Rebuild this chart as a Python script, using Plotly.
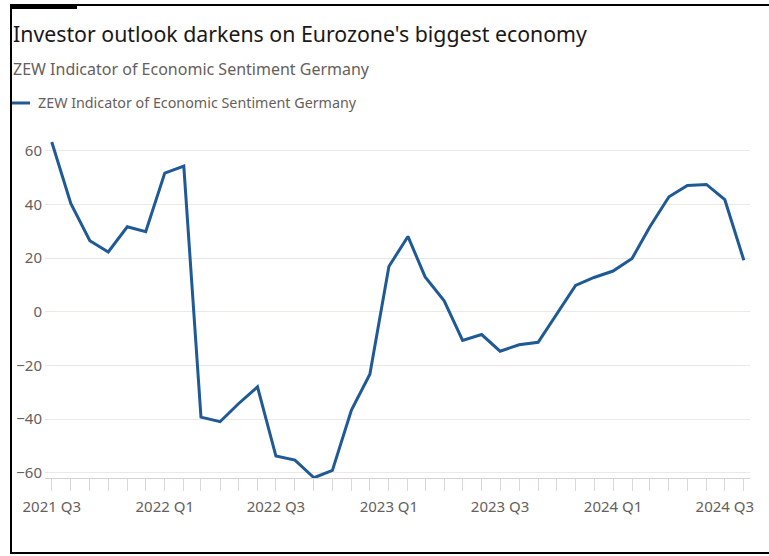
import plotly.graph_objects as go

months = ["2021-07-01", "2021-08-01", "2021-09-01", "2021-10-01", "2021-11-01", "2021-12-01",
          "2022-01-01", "2022-02-01", "2022-03-01", "2022-04-01", "2022-05-01", "2022-06-01",
          "2022-07-01", "2022-08-01", "2022-09-01", "2022-10-01", "2022-11-01", "2022-12-01",
          "2023-01-01", "2023-02-01", "2023-03-01", "2023-04-01", "2023-05-01", "2023-06-01",
          "2023-07-01", "2023-08-01", "2023-09-01", "2023-10-01", "2023-11-01", "2023-12-01",
          "2024-01-01", "2024-02-01", "2024-03-01", "2024-04-01", "2024-05-01", "2024-06-01",
          "2024-07-01", "2024-08-01"]
zew = [63.3, 40.4, 26.5, 22.3, 31.7, 29.9,
       51.7, 54.3, -39.3, -41.0, -34.3, -28.0,
       -53.8, -55.3, -61.9, -59.2, -36.7, -23.3,
       16.9, 28.1, 13.0, 4.1, -10.7, -8.5,
       -14.7, -12.3, -11.4, -1.1, 9.8, 12.8,
       15.2, 19.9, 31.7, 42.9, 47.1, 47.5,
       41.8, 19.2]
tick_dates = ["2021-07-01", "2022-01-01", "2022-07-01", "2023-01-01", "2023-07-01", "2024-01-01", "2024-07-01"]
tick_labels = ["2021 Q3", "2022 Q1", "2022 Q3", "2023 Q1", "2023 Q3", "2024 Q1", "2024 Q3"]
y_ticks = [-60, -40, -20, 0, 20, 40, 60]

title = "Investor outlook darkens on Eurozone's biggest economy"
subtitle = "ZEW Indicator of Economic Sentiment Germany"
series_name = "ZEW Indicator of Economic Sentiment Germany"

W, H = 769, 556
ML, MR, MT, MB = 45, 19, 130, 78
PW, PH = W - ML - MR, H - MT - MB

def px(x):
    return (x - ML) / PW

def py(y):
    return (H - MB - y) / PH

FONT = "Noto Sans"
GREY = "#66605c"
LINE = "#1f5a96"

fig = go.Figure()
fig.add_trace(go.Scatter(x=months, y=zew, mode="lines", name=series_name,
                         line=dict(color=LINE, width=3), showlegend=False))

fig.update_layout(
    width=W, height=H,
    margin=dict(l=ML, r=MR, t=MT, b=MB),
    paper_bgcolor="white", plot_bgcolor="white",
    font=dict(family=FONT, color=GREY, size=15),
    xaxis=dict(
        type="date",
        range=["2021-06-20", "2024-08-11"],
        tickvals=tick_dates, ticktext=tick_labels,
        ticks="outside", ticklen=12, tickcolor="#dcd8d4", tickwidth=1,
        minor=dict(ticks="outside", ticklen=12, dtick="M1", tick0="2021-07-01",
                   tickcolor="#dcd8d4", tickwidth=1, showgrid=False),
        showgrid=False, showline=True, linecolor="#d6d2ce", linewidth=1,
        tickfont=dict(size=15, color=GREY), zeroline=False, ticklabelstandoff=3,
    ),
    yaxis=dict(
        range=[-62, 67.8],
        tickvals=y_ticks,
        showgrid=True, gridcolor="#ebe8e5", gridwidth=1,
        zeroline=False, showline=False, ticks="",
        tickfont=dict(size=15, color=GREY), ticklabelstandoff=2,
    ),
)

ann = [
    dict(text=title, x=px(11), y=py(33), xref="paper", yref="paper", xanchor="left", yanchor="middle",
         showarrow=False, font=dict(family=FONT, size=21.3, color="#1a1817")),
    dict(text=subtitle, x=px(11), y=py(69), xref="paper", yref="paper", xanchor="left", yanchor="middle",
         showarrow=False, font=dict(family=FONT, size=16, color=GREY)),
    dict(text=series_name, x=px(36), y=py(103), xref="paper", yref="paper", xanchor="left", yanchor="middle",
         showarrow=False, font=dict(family=FONT, size=14.3, color=GREY)),
]
fig.update_layout(annotations=ann)

shapes = [
    # legend swatch
    dict(type="line", xref="paper", yref="paper", x0=px(12), x1=px(30), y0=py(103), y1=py(103),
         line=dict(color=LINE, width=3)),
    # frame
    dict(type="line", xref="paper", yref="paper", x0=px(11), x1=px(11), y0=py(4), y1=py(554),
         line=dict(color="black", width=2)),
    dict(type="line", xref="paper", yref="paper", x0=px(10), x1=px(769), y0=py(5), y1=py(5),
         line=dict(color="black", width=2)),
    dict(type="line", xref="paper", yref="paper", x0=px(10), x1=px(769), y0=py(553), y1=py(553),
         line=dict(color="black", width=2)),
    dict(type="rect", xref="paper", yref="paper", x0=px(10), x1=px(77), y0=py(4), y1=py(9),
         line=dict(width=0), fillcolor="black"),
]
fig.update_layout(shapes=shapes)

fig.write_html("out.html")
